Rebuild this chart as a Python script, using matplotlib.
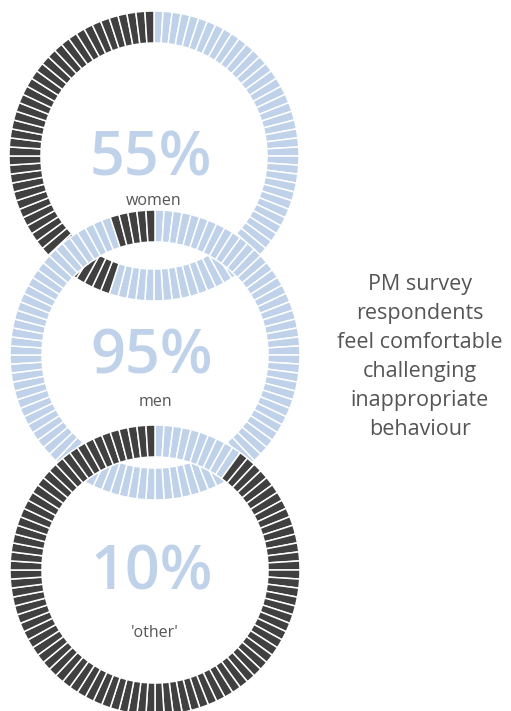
import matplotlib.pyplot as plt

# survey shares (percent of segments shown light blue)
groups = ["women", "men", "'other'"]
pct = [55, 95, 10]
n_seg = 100

caption = "PM survey\nrespondents\nfeel comfortable\nchallenging\ninappropriate\nbehaviour"

light = "#bfd2ea"
dark = "#404040"
grey = "#555555"

fig = plt.figure(figsize=(5.11, 7.11), dpi=100)
ax = fig.add_axes([0, 0, 1, 1])

# ring centres / sizes in pixel space (y negative downward)
centres = [(154, -156), (155, -355), (155, -570)]
label_off = [45, 47, 63]
radius = 145
band = 32

for (cx, cy), p, g, off in zip(centres, pct, groups, label_off):
    cols = [light if i < p else dark for i in range(n_seg)]
    ax.pie([1] * n_seg, colors=cols, radius=radius, center=(cx, cy),
           startangle=90, counterclock=False,
           wedgeprops=dict(width=band, edgecolor="white", linewidth=1.1))
    ax.text(cx - 3, cy - 3, f"{p}%", ha="center", va="center", fontsize=44,
            color=light, family="Open Sans", weight="semibold")
    ax.text(cx, cy - off, g, ha="center", va="center", fontsize=11.5,
            color=grey, family="Open Sans")

ax.text(420, -357, caption, ha="center", va="center", fontsize=15.5,
        color=grey, family="Open Sans", linespacing=1.5)

ax.set_xlim(0, 511)
ax.set_ylim(-711, 0)
ax.set_aspect("equal")
ax.axis("off")

fig.savefig("out.png", dpi=100, facecolor="white")
